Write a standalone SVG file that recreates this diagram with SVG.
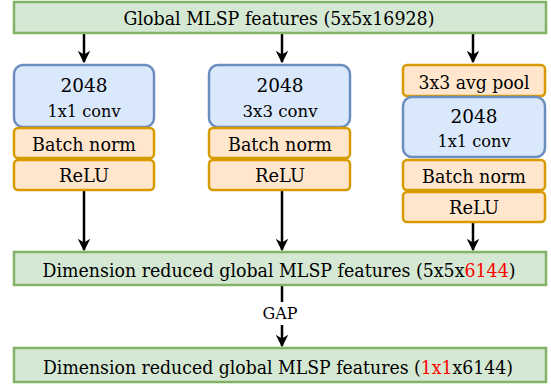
<svg xmlns="http://www.w3.org/2000/svg" width="551" height="385" viewBox="0 0 551 385">
  <style>
    text { font-family: "DejaVu Serif", "Liberation Serif", serif; font-size: 18px; fill: #000; text-anchor: middle; }
    .small { font-size: 16px; }
    .green { fill: #d5e8d4; stroke: #82b366; stroke-width: 2.5; }
    .blue { fill: #dae8fc; stroke: #6c8ebf; stroke-width: 2.5; }
    .orange { fill: #ffe6cc; stroke: #d79b00; stroke-width: 2.5; }
    .edge { fill: none; stroke: #000; stroke-width: 2.5; }
    .red { fill: #ff0000; }
  </style>
  <defs>
    <marker id="arrow" viewBox="0 0 10 10" refX="9" refY="5" markerWidth="5" markerHeight="5" markerUnits="strokeWidth" orient="auto">
      <path d="M0,0 L10,5 L0,10 L3,5 Z" fill="#000"/>
    </marker>
  </defs>

  <g id="connectors">
    <line class="edge" x1="84" y1="33" x2="84" y2="62" marker-end="url(#arrow)"/>
    <line class="edge" x1="282" y1="33" x2="282" y2="62" marker-end="url(#arrow)"/>
    <line class="edge" x1="473" y1="33" x2="473" y2="62" marker-end="url(#arrow)"/>
    <line class="edge" x1="84" y1="190" x2="84" y2="250" marker-end="url(#arrow)"/>
    <line class="edge" x1="282" y1="190" x2="282" y2="250" marker-end="url(#arrow)"/>
    <line class="edge" x1="473" y1="222" x2="473" y2="250" marker-end="url(#arrow)"/>
    <line class="edge" x1="282" y1="285" x2="282" y2="302"/>
    <line class="edge" x1="282" y1="325" x2="282" y2="346" marker-end="url(#arrow)"/>
    <text x="280" y="319" class="small" textLength="35" lengthAdjust="spacingAndGlyphs">GAP</text>
  </g>

  <g id="input">
    <rect class="green" x="14" y="2" width="532" height="31"/>
    <text x="279" y="25" textLength="311" lengthAdjust="spacingAndGlyphs">Global MLSP features (5x5x16928)</text>
  </g>

  <!-- branch 1: 1x1 conv -->
  <g id="conv1x1">
    <rect class="blue" x="14" y="65" width="140" height="62" rx="9"/>
    <text x="84" y="92" textLength="47" lengthAdjust="spacingAndGlyphs">2048</text>
    <text x="84" y="117" class="small" textLength="73" lengthAdjust="spacingAndGlyphs">1x1 conv</text>
  </g>
  <g id="bn1">
    <rect class="orange" x="14" y="128" width="140" height="30" rx="4"/>
    <text x="84" y="151" textLength="104" lengthAdjust="spacingAndGlyphs">Batch norm</text>
  </g>
  <g id="relu1">
    <rect class="orange" x="14" y="160" width="140" height="30" rx="4"/>
    <text x="84" y="182" textLength="50" lengthAdjust="spacingAndGlyphs">ReLU</text>
  </g>

  <!-- branch 2: 3x3 conv -->
  <g id="conv3x3">
    <rect class="blue" x="209" y="65" width="141" height="62" rx="9"/>
    <text x="280" y="92" textLength="47" lengthAdjust="spacingAndGlyphs">2048</text>
    <text x="280" y="117" class="small" textLength="75" lengthAdjust="spacingAndGlyphs">3x3 conv</text>
  </g>
  <g id="bn2">
    <rect class="orange" x="209" y="128" width="141" height="30" rx="4"/>
    <text x="280" y="151" textLength="104" lengthAdjust="spacingAndGlyphs">Batch norm</text>
  </g>
  <g id="relu2">
    <rect class="orange" x="209" y="160" width="141" height="30" rx="4"/>
    <text x="280" y="182" textLength="50" lengthAdjust="spacingAndGlyphs">ReLU</text>
  </g>

  <!-- branch 3: pooling then 1x1 conv -->
  <g id="avgpool">
    <rect class="orange" x="403" y="65" width="142" height="31" rx="4"/>
    <text x="474" y="89" textLength="111" lengthAdjust="spacingAndGlyphs">3x3 avg pool</text>
  </g>
  <g id="conv1x1b">
    <rect class="blue" x="403" y="97" width="142" height="60" rx="9"/>
    <text x="474" y="123" textLength="47" lengthAdjust="spacingAndGlyphs">2048</text>
    <text x="474" y="147" class="small" textLength="73" lengthAdjust="spacingAndGlyphs">1x1 conv</text>
  </g>
  <g id="bn3">
    <rect class="orange" x="403" y="160" width="142" height="30" rx="4"/>
    <text x="474" y="183" textLength="104" lengthAdjust="spacingAndGlyphs">Batch norm</text>
  </g>
  <g id="relu3">
    <rect class="orange" x="403" y="192" width="142" height="30" rx="4"/>
    <text x="474" y="214" textLength="50" lengthAdjust="spacingAndGlyphs">ReLU</text>
  </g>

  <g id="reduced">
    <rect class="green" x="14" y="252" width="532" height="33"/>
    <text x="279" y="277" textLength="473" lengthAdjust="spacingAndGlyphs">Dimension reduced global MLSP features (5x5x<tspan class="red">6144</tspan>)</text>
  </g>

  <g id="pooled">
    <rect class="green" x="14" y="348" width="532" height="34"/>
    <text x="278" y="374" textLength="470" lengthAdjust="spacingAndGlyphs">Dimension reduced global MLSP features (<tspan class="red">1x1</tspan>x6144)</text>
  </g>
</svg>
